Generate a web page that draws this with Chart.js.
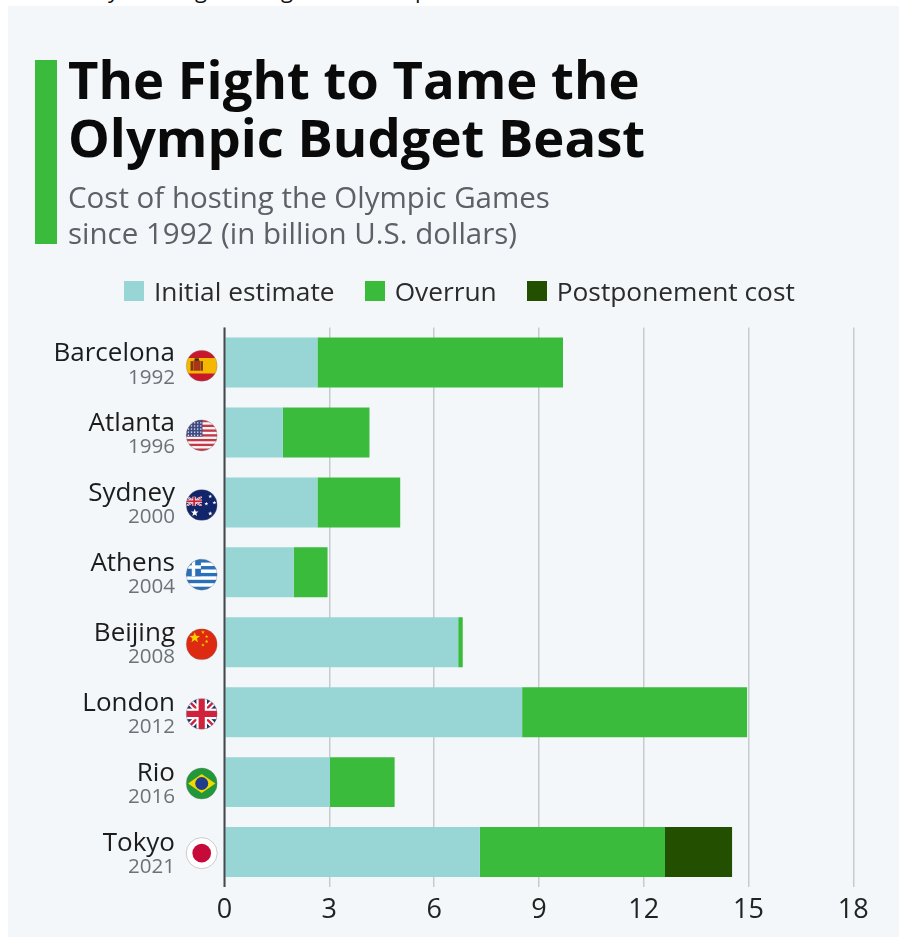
<!DOCTYPE html>
<html>
<head>
<meta charset="utf-8">
<title>The Fight to Tame the Olympic Budget Beast</title>
<script src="https://cdn.jsdelivr.net/npm/chart.js@4/dist/chart.umd.min.js"></script>
<style>
    html, body { margin: 0; padding: 0; background: #fff; overflow: hidden; }
    body { position: relative; width: 899px; height: 937px; font-family: "Open Sans", sans-serif; }
    #panel { position: absolute; left: 8px; top: 6px; width: 891px; height: 931px; background: #f3f7fa; }
    #chart { position: absolute; left: 0; top: 0; }
    #accent { position: absolute; left: 35px; top: 60px; width: 22px; height: 184px; background: #3abb3b; }
    #title { position: absolute; left: 68px; top: 50px; font-size: 52.6px; line-height: 58px; font-weight: 700; color: #0a0a0a; white-space: nowrap; }
    #subtitle { position: absolute; left: 68px; top: 179px; font-size: 29.5px; line-height: 36px; color: #5b6167; white-space: nowrap; }
    #legend { position: absolute; left: 124px; top: 272px; height: 38px; display: flex; align-items: center; font-size: 26.3px; color: #2b2b2b; white-space: nowrap; }
    #legend .swatch { width: 20px; height: 20px; margin-right: 10px; }
    #legend .item { display: flex; align-items: center; margin-right: 30px; }
    .cut { position: absolute; top: -22px; font-size: 22px; line-height: 22px; color: #111; }
</style>
</head>
<body>
<span class="cut" style="left:108px">y</span>
<span class="cut" style="left:195px">g</span>
<span class="cut" style="left:281px">g</span>
<span class="cut" style="left:415px">p</span>
<div id="panel"></div>
<canvas id="chart" width="899" height="937"></canvas>
<div id="accent"></div>
<div id="title">The Fight to Tame the<br>Olympic Budget Beast</div>
<div id="subtitle">Cost of hosting the Olympic Games<br>since 1992 (in billion U.S. dollars)</div>
<div id="legend"></div>

<script>
const cities = ['Barcelona', 'Atlanta', 'Sydney', 'Athens', 'Beijing', 'London', 'Rio', 'Tokyo'];
const years = ['1992', '1996', '2000', '2004', '2008', '2012', '2016', '2021'];
const initialEstimate = [2.66, 1.67, 2.66, 1.98, 6.69, 8.52, 3.02, 7.31];
const overrun = [7.03, 2.48, 2.37, 0.97, 0.13, 6.44, 1.85, 5.30];
const postponementCost = [0, 0, 0, 0, 0, 0, 0, 1.92];
const seriesNames = ['Initial estimate', 'Overrun', 'Postponement cost'];
const seriesColors = ['#98d6d6', '#3abb3b', '#235000'];

function stripes(ctx, r, colors) {
    const h = 2 * r / colors.length;
    colors.forEach((c, i) => {
        ctx.fillStyle = c;
        ctx.fillRect(-r, -r + i * h, 2 * r, h + 0.5);
    });
}

function star(ctx, x, y, size, color) {
    ctx.fillStyle = color;
    ctx.beginPath();
    for (let i = 0; i < 10; i++) {
        const a = -Math.PI / 2 + i * Math.PI / 5;
        const d = i % 2 ? size * 0.42 : size;
        ctx.lineTo(x + Math.cos(a) * d, y + Math.sin(a) * d);
    }
    ctx.closePath();
    ctx.fill();
}

function unionJack(ctx, x, y, w, h) {
    ctx.save();
    ctx.beginPath();
    ctx.rect(x, y, w, h);
    ctx.clip();
    ctx.fillStyle = '#1f2f6e';
    ctx.fillRect(x, y, w, h);
    const t = Math.min(w, h);
    ctx.strokeStyle = '#fff';
    ctx.lineWidth = t * 0.2;
    ctx.beginPath();
    ctx.moveTo(x, y); ctx.lineTo(x + w, y + h);
    ctx.moveTo(x + w, y); ctx.lineTo(x, y + h);
    ctx.stroke();
    ctx.strokeStyle = '#d0213d';
    ctx.lineWidth = t * 0.08;
    ctx.stroke();
    ctx.fillStyle = '#fff';
    ctx.fillRect(x + w / 2 - t * 0.17, y, t * 0.34, h);
    ctx.fillRect(x, y + h / 2 - t * 0.17, w, t * 0.34);
    ctx.fillStyle = '#d0213d';
    ctx.fillRect(x + w / 2 - t * 0.1, y, t * 0.2, h);
    ctx.fillRect(x, y + h / 2 - t * 0.1, w, t * 0.2);
    ctx.restore();
}

// one painter per host city, each works in a circle of radius r around 0,0
const flags = {
    Barcelona(ctx, r) {
        stripes(ctx, r, ['#c8182c', '#f5b800', '#f5b800', '#c8182c']);
        ctx.fillStyle = '#7d3a10';
        ctx.fillRect(-r * 0.72, -r * 0.3, r * 0.16, r * 0.62);
        ctx.fillRect(-r * 0.08, -r * 0.3, r * 0.16, r * 0.62);
        ctx.fillStyle = '#a8341c';
        ctx.fillRect(-r * 0.54, -r * 0.34, r * 0.44, r * 0.66);
        ctx.fillStyle = '#3a2a10';
        ctx.fillRect(-r * 0.46, -r * 0.48, r * 0.28, r * 0.16);
    },
    Atlanta(ctx, r) {
        const rows = [];
        for (let i = 0; i < 13; i++) rows.push(i % 2 ? '#f6f6f6' : '#c4384a');
        stripes(ctx, r, rows);
        ctx.fillStyle = '#3f4a82';
        ctx.fillRect(-r, -r, r * 1.05, r * 1.07);
        ctx.fillStyle = '#e8eaf4';
        for (let row = 0; row < 5; row++) {
            for (let col = 0; col < 5; col++) {
                ctx.fillRect(-r * 0.9 + col * r * 0.2, -r * 0.85 + row * r * 0.2, 1.3, 1.3);
            }
        }
    },
    Sydney(ctx, r) {
        ctx.fillStyle = '#12246a';
        ctx.fillRect(-r, -r, 2 * r, 2 * r);
        unionJack(ctx, -r, -r * 0.55, r * 1.02, r * 0.62);
        star(ctx, -r * 0.45, r * 0.5, r * 0.26, '#fff');
        star(ctx, r * 0.55, -r * 0.55, r * 0.13, '#fff');
        star(ctx, r * 0.3, -r * 0.08, r * 0.13, '#fff');
        star(ctx, r * 0.82, -r * 0.15, r * 0.13, '#fff');
        star(ctx, r * 0.55, r * 0.55, r * 0.15, '#fff');
    },
    Athens(ctx, r) {
        const rows = [];
        for (let i = 0; i < 9; i++) rows.push(i % 2 ? '#fff' : '#2a70b8');
        stripes(ctx, r, rows);
        ctx.fillStyle = '#2a70b8';
        ctx.fillRect(-r, -r, r * 0.95, r * 1.1);
        ctx.fillStyle = '#fff';
        ctx.fillRect(-r, -r * 0.6, r * 0.95, r * 0.22);
        ctx.fillRect(-r * 0.64, -r, r * 0.22, r * 1.1);
    },
    Beijing(ctx, r) {
        ctx.fillStyle = '#de2a10';
        ctx.fillRect(-r, -r, 2 * r, 2 * r);
        star(ctx, -r * 0.45, -r * 0.42, r * 0.36, '#f8d000');
        star(ctx, r * 0.08, -r * 0.78, r * 0.12, '#f8d000');
        star(ctx, r * 0.32, -r * 0.5, r * 0.12, '#f8d000');
        star(ctx, r * 0.32, -r * 0.18, r * 0.12, '#f8d000');
        star(ctx, r * 0.08, r * 0.05, r * 0.12, '#f8d000');
    },
    London(ctx, r) {
        unionJack(ctx, -r, -r, 2 * r, 2 * r);
    },
    Rio(ctx, r) {
        ctx.fillStyle = '#22983a';
        ctx.fillRect(-r, -r, 2 * r, 2 * r);
        ctx.fillStyle = '#f4d800';
        ctx.beginPath();
        ctx.moveTo(-r * 0.88, 0);
        ctx.lineTo(0, -r * 0.62);
        ctx.lineTo(r * 0.88, 0);
        ctx.lineTo(0, r * 0.62);
        ctx.closePath();
        ctx.fill();
        ctx.fillStyle = '#1f3d8c';
        ctx.beginPath();
        ctx.arc(0, 0, r * 0.42, 0, Math.PI * 2);
        ctx.fill();
    },
    Tokyo(ctx, r) {
        ctx.fillStyle = '#fff';
        ctx.fillRect(-r, -r, 2 * r, 2 * r);
        ctx.fillStyle = '#c60b3a';
        ctx.beginPath();
        ctx.arc(0, 0, r * 0.6, 0, Math.PI * 2);
        ctx.fill();
    }
};

// city name, year and flag in the space left of the zero line
const rowLabels = {
    id: 'rowLabels',
    afterDraw(chart) {
        const { ctx, scales } = chart;
        const textRight = 175;
        const flagX = 201.7;
        const flagRadius = 15.5;

        // zero line stays visible on top of the bars
        const zeroX = scales.x.getPixelForValue(0);
        ctx.save();
        ctx.strokeStyle = '#45494d';
        ctx.lineWidth = 2;
        ctx.beginPath();
        ctx.moveTo(zeroX, chart.chartArea.top);
        ctx.lineTo(zeroX, chart.chartArea.bottom);
        ctx.stroke();
        ctx.restore();

        cities.forEach((city, i) => {
            const y = scales.y.getPixelForValue(i);
            ctx.save();
            ctx.textAlign = 'right';
            ctx.textBaseline = 'alphabetic';
            ctx.font = '26px "Open Sans"';
            ctx.fillStyle = '#1c1c1c';
            ctx.fillText(city, textRight, y - 1.5);
            ctx.font = '20.6px "Open Sans"';
            ctx.fillStyle = '#6d7276';
            ctx.fillText(years[i], textRight, y + 21);

            const flagY = y + 3.2 - i * 0.3;
            ctx.translate(flagX, flagY);
            ctx.save();
            ctx.beginPath();
            ctx.arc(0, 0, flagRadius, 0, Math.PI * 2);
            ctx.clip();
            flags[city](ctx, flagRadius);
            ctx.restore();
            ctx.strokeStyle = 'rgba(120,120,120,0.45)';
            ctx.lineWidth = 0.8;
            ctx.beginPath();
            ctx.arc(0, 0, flagRadius, 0, Math.PI * 2);
            ctx.stroke();
            ctx.restore();
        });
    }
};

function datasetFor(index, values) {
    return {
        label: seriesNames[index],
        data: values,
        backgroundColor: seriesColors[index],
        borderWidth: 0,
        barPercentage: 0.714,
        categoryPercentage: 1
    };
}

const legend = document.getElementById('legend');
seriesNames.forEach((name, i) => {
    const item = document.createElement('div');
    item.className = 'item';
    const swatch = document.createElement('div');
    swatch.className = 'swatch';
    swatch.style.background = seriesColors[i];
    item.appendChild(swatch);
    item.appendChild(document.createTextNode(name));
    legend.appendChild(item);
});

new Chart(document.getElementById('chart').getContext('2d'), {
    type: 'bar',
    data: {
        labels: cities,
        datasets: [
            datasetFor(0, initialEstimate),
            datasetFor(1, overrun),
            datasetFor(2, postponementCost)
        ]
    },
    plugins: [rowLabels],
    options: {
        indexAxis: 'y',
        responsive: false,
        animation: false,
        layout: {
            padding: { left: 224.5, right: 45.7, top: 327.6, bottom: 0 }
        },
        plugins: {
            legend: { display: false },
            tooltip: { enabled: false }
        },
        scales: {
            x: {
                stacked: true,
                min: 0,
                max: 18,
                afterFit(scale) {
                    scale.height = 50;
                },
                border: { display: false },
                grid: {
                    drawTicks: false,
                    lineWidth: 1.5,
                    color: '#c6cbd0'
                },
                ticks: {
                    stepSize: 3,
                    maxRotation: 0,
                    padding: 7,
                    color: '#222',
                    font: { family: '"Open Sans"', size: 27 }
                }
            },
            y: {
                stacked: true,
                display: false
            }
        }
    }
});
</script>
</body>
</html>
